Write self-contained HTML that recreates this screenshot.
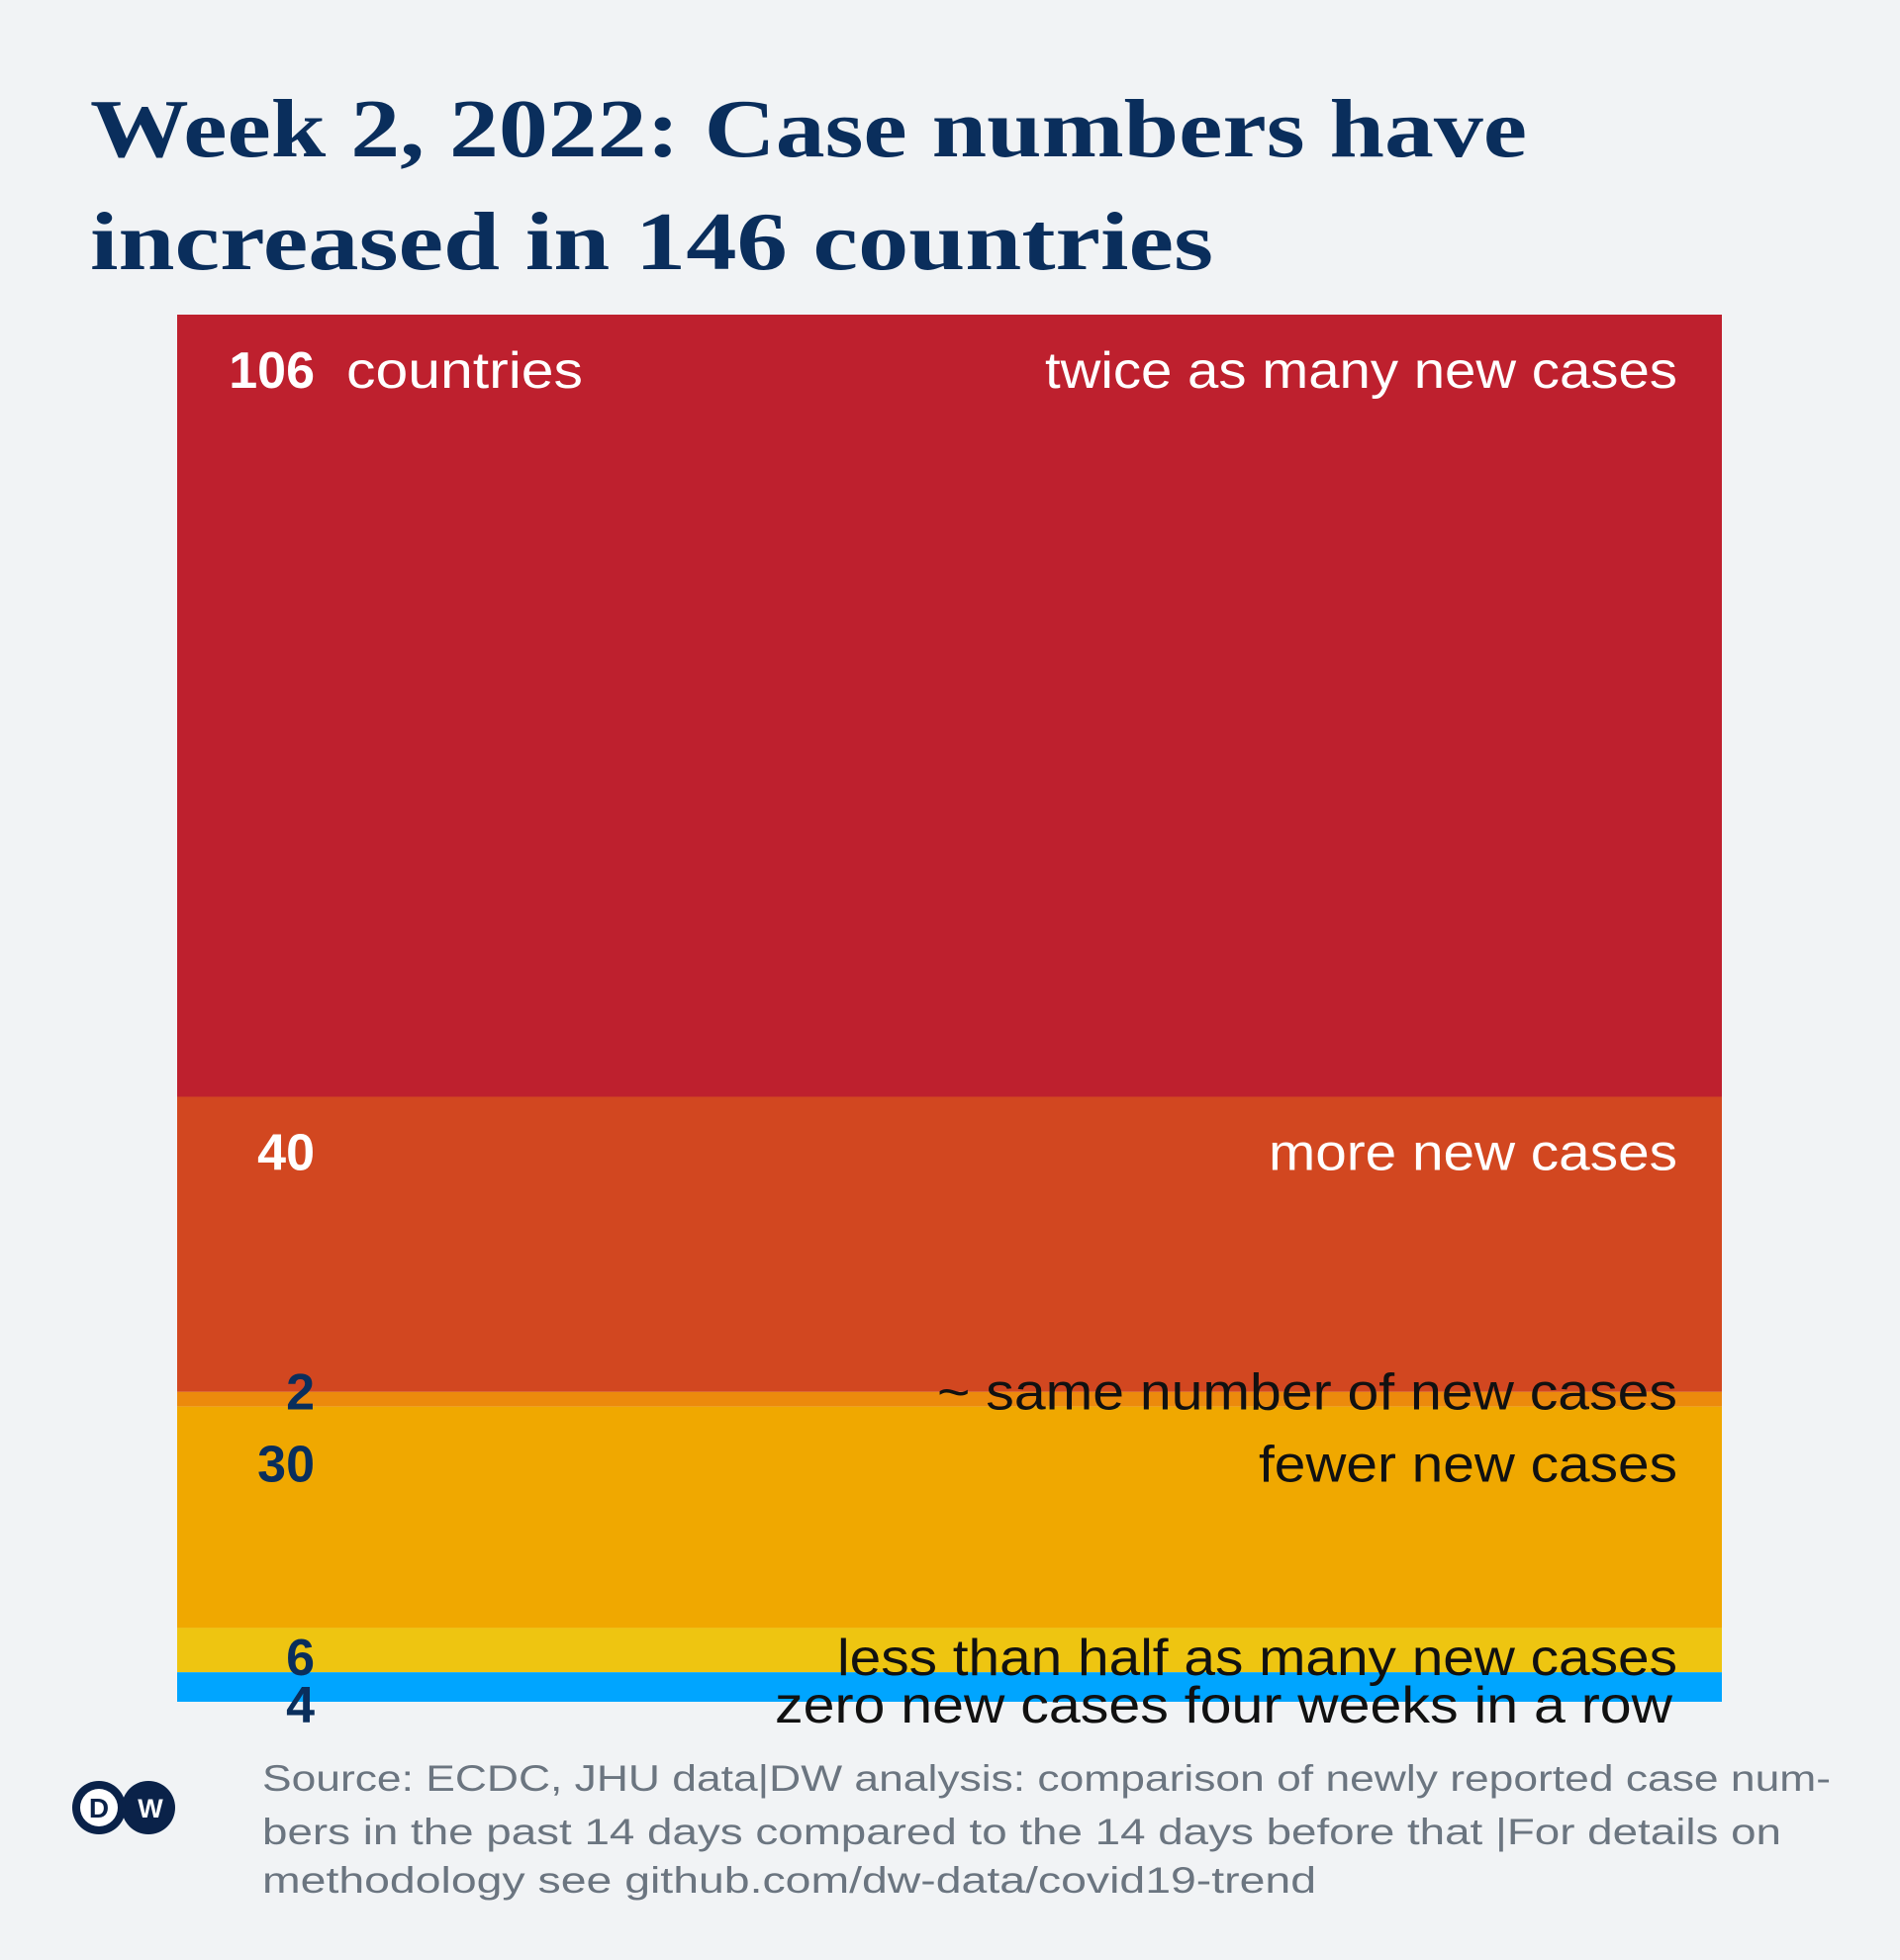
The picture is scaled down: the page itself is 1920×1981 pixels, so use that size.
<!DOCTYPE html>
<html><head><meta charset="utf-8">
<style>
html,body{margin:0;padding:0;background:#f1f3f5;}
svg{display:block;}
text{font-family:"Liberation Sans",sans-serif;}
</style></head>
<body>
<svg id="chart" width="1920" height="1981" viewBox="0 0 1920 1981">
<rect x="0" y="0" width="1920" height="1981" fill="#f1f3f5"/>
<g fill="#0a2e5c" font-weight="bold" font-size="84">
<text x="91" y="158" textLength="1452" lengthAdjust="spacingAndGlyphs" style="font-family:'Liberation Serif',serif">Week 2, 2022: Case numbers have</text>
<text x="91" y="272" textLength="1135" lengthAdjust="spacingAndGlyphs" style="font-family:'Liberation Serif',serif">increased in 146 countries</text>
</g>
<g id="bars"></g>
<g id="labels"></g>
<g>
<circle cx="150" cy="1827" r="27" fill="#0a2249"/>
<circle cx="100" cy="1827" r="27" fill="#0a2249"/>
<circle cx="100" cy="1827" r="19" fill="#ffffff"/>
<text x="100" y="1837" text-anchor="middle" font-size="28" font-weight="bold" fill="#0a2249">D</text>
<text x="152" y="1837" text-anchor="middle" font-size="27" font-weight="bold" fill="#ffffff">W</text>
</g>
<g fill="#6b7580" font-size="37">
<text x="265" y="1810" textLength="1585" lengthAdjust="spacingAndGlyphs">Source: ECDC, JHU data|DW analysis: comparison of newly reported case num-</text>
<text x="265" y="1864" textLength="1535" lengthAdjust="spacingAndGlyphs">bers in the past 14 days compared to the 14 days before that |For details on</text>
<text x="265" y="1913" textLength="1065" lengthAdjust="spacingAndGlyphs">methodology see github.com/dw-data/covid19-trend</text>
</g>
</svg>
<script>
const categories = ["twice as many new cases","more new cases","~ same number of new cases","fewer new cases","less than half as many new cases","zero new cases four weeks in a row"];
const counts = [106, 40, 2, 30, 6, 4];
const colors = ["#be202e","#d24720","#ec8a0c","#f0a800","#eec511","#00a5ff"];
const numColors = ["#ffffff","#ffffff","#0a2e5c","#0a2e5c","#0a2e5c","#0a2e5c"];
const textColors = ["#ffffff","#ffffff","#111111","#111111","#111111","#111111"];
const labelWidths = [639, 413, 748, 423, 849, 907];

const X0 = 179, X1 = 1740, Y0 = 318, Y1 = 1720;
const total = counts.reduce((a,b)=>a+b,0);
function yScale(v){ return Y0 + (Y1 - Y0) * v / total; }

const ns = "http://www.w3.org/2000/svg";
const bars = document.getElementById('bars');
const labels = document.getElementById('labels');
let cum = 0;
const labelYs = [];
counts.forEach((c,i)=>{
  const y0 = yScale(cum), y1 = yScale(cum + c);
  const r = document.createElementNS(ns,'rect');
  r.setAttribute('x', X0); r.setAttribute('y', y0);
  r.setAttribute('width', X1 - X0); r.setAttribute('height', y1 - y0);
  r.setAttribute('fill', colors[i]);
  
  
  bars.appendChild(r);
  let by = (y1 - y0) > 100 ? y0 + 74 : y1 + 3;
  if (i === 3) by = y0 + 76;
  if (i === 5) by = y1 + 21;
  labelYs.push(by);
  cum += c;
});
counts.forEach((c,i)=>{
  const by = labelYs[i];
  const n = document.createElementNS(ns,'text');
  n.setAttribute('x', 318); n.setAttribute('y', by);
  n.setAttribute('text-anchor','end');
  n.setAttribute('font-size','52'); n.setAttribute('font-weight','bold');
  n.setAttribute('fill', numColors[i]);
  n.textContent = String(c);
  
  
  labels.appendChild(n);
  const t = document.createElementNS(ns,'text');
  t.setAttribute('x', i === 5 ? 1690 : 1695); t.setAttribute('y', by);
  t.setAttribute('text-anchor','end');
  t.setAttribute('font-size','52');
  t.setAttribute('textLength', labelWidths[i]);
  t.setAttribute('lengthAdjust', 'spacingAndGlyphs');
  t.setAttribute('fill', textColors[i]);
  t.textContent = categories[i];
  
  
  labels.appendChild(t);
});
const cl = document.createElementNS(ns,'text');
cl.setAttribute('x', 350); cl.setAttribute('y', labelYs[0]);
cl.setAttribute('font-size','52'); cl.setAttribute('fill','#ffffff');
cl.setAttribute('textLength', 239);
cl.setAttribute('lengthAdjust', 'spacingAndGlyphs');
cl.textContent = 'countries';


labels.appendChild(cl);
</script>
</body></html>
